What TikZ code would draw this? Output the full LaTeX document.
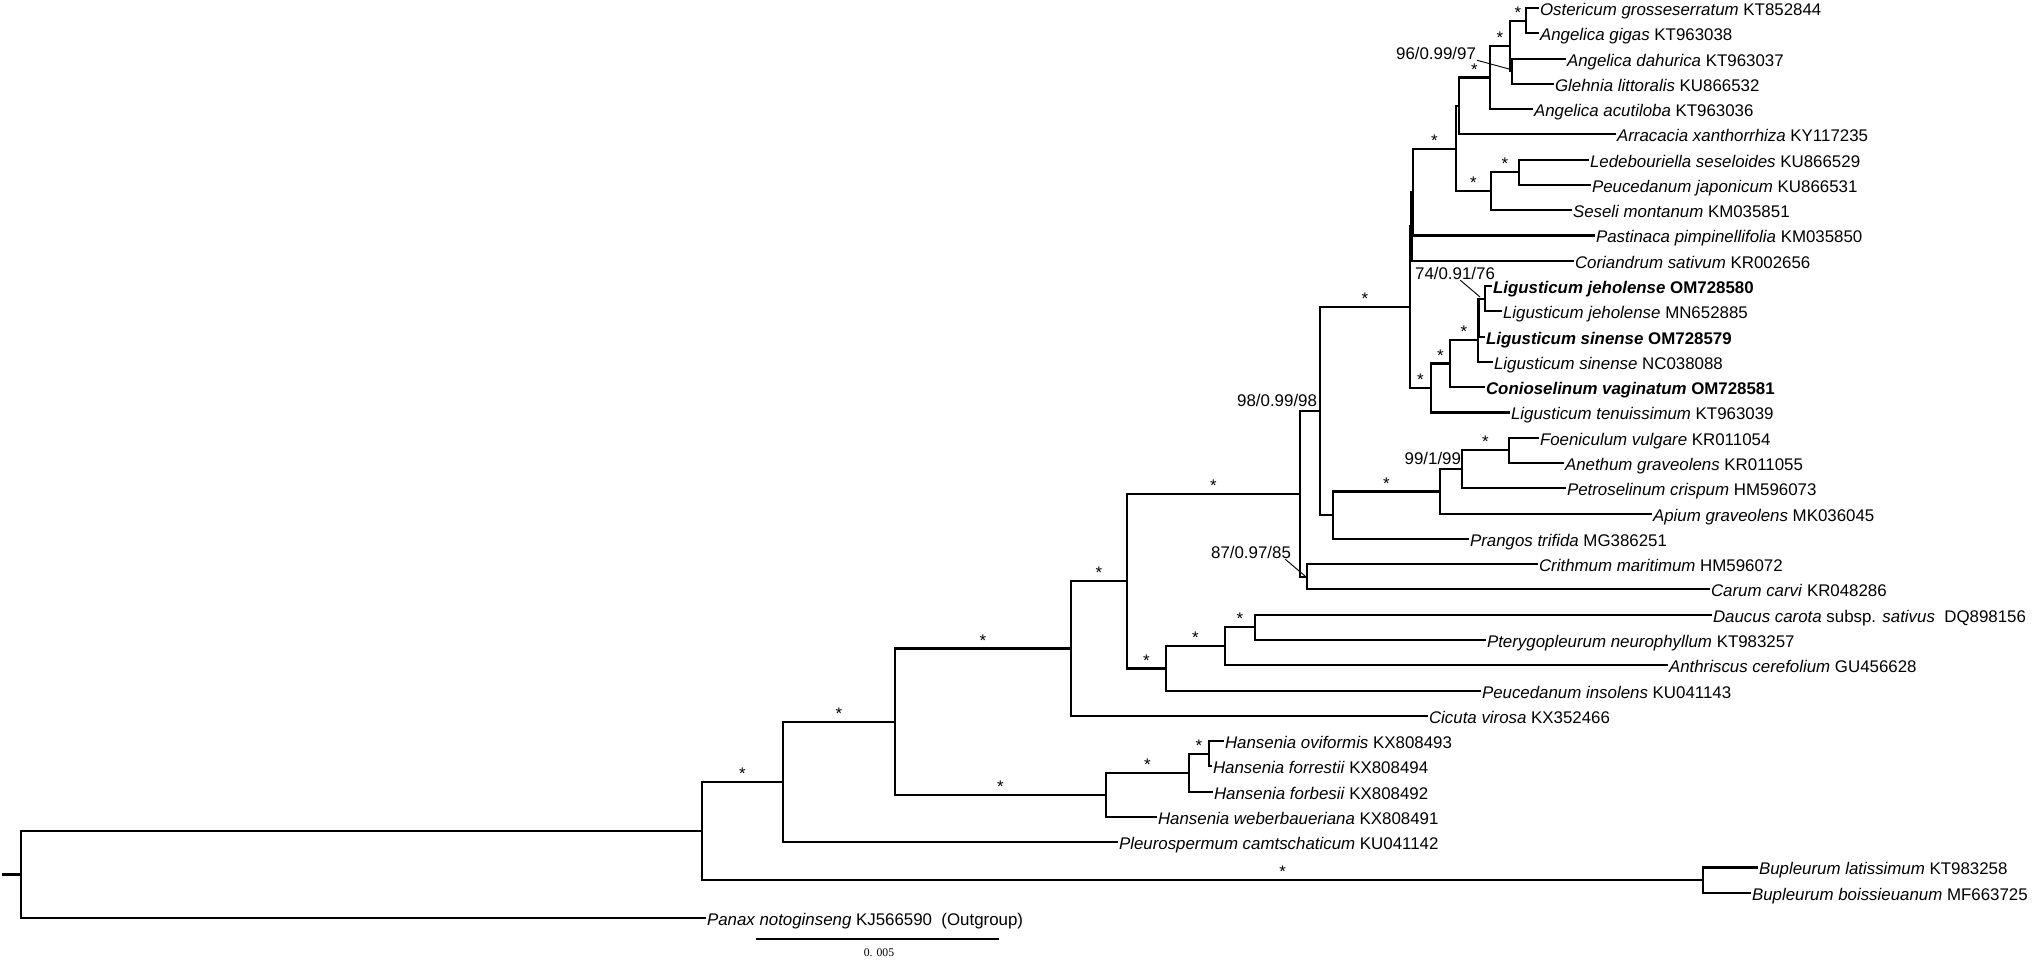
\documentclass[tikz,border=0pt]{standalone}
\usepackage{fontspec}
\setmainfont{Liberation Sans}
\newfontfamily\serifscale{Liberation Serif}
\usepackage{tikz}
\usetikzlibrary{positioning}
\tikzset{
    taxon/.style = {anchor=west, inner sep=0.4pt, text height=1.6ex, text depth=0.4ex, font=\fontsize{7.2}{8}\selectfont},
    supp/.style = {inner sep=0pt, font=\fontsize{7.2}{8}\selectfont},
    star/.style = {above, inner sep=0.6pt, font=\fontsize{7.2}{8}\selectfont},
}
\begin{document}
\begin{tikzpicture}[
	x=0.015cm, y=-0.015cm,
	line width=0.9pt,
	line cap=rect
]
\tikzset{
    pointer/.style = {line width=0.4pt, line cap=butt},
    scalebar/.style = {line width=0.5pt, line cap=butt}
}
\useasboundingbox (0,0) rectangle (2032,960);
% taxa
\node[taxon] (l1) at (1538,8.0) {\textit{Ostericum grosseserratum} KT852844};
\node[taxon] (l2) at (1538,33.3) {\textit{Angelica gigas} KT963038};
\node[taxon] (l3) at (1565,58.6) {\textit{Angelica dahurica} KT963037};
\node[taxon] (l4) at (1553,83.8) {\textit{Glehnia littoralis} KU866532};
\node[taxon] (l5) at (1532,109.1) {\textit{Angelica acutiloba} KT963036};
\node[taxon] (l6) at (1615,134.4) {\textit{Arracacia xanthorrhiza} KY117235};
\node[taxon] (l7) at (1588,159.7) {\textit{Ledebouriella seseloides} KU866529};
\node[taxon] (l8) at (1590,185.0) {\textit{Peucedanum japonicum} KU866531};
\node[taxon] (l9) at (1571,210.2) {\textit{Seseli montanum} KM035851};
\node[taxon] (l10) at (1594,235.5) {\textit{Pastinaca pimpinellifolia} KM035850};
\node[taxon] (l11) at (1573,260.8) {\textit{Coriandrum sativum} KR002656};
\node[taxon] (l12) at (1491,286.1) {\textbf{\textit{Ligusticum jeholense} OM728580}};
\node[taxon] (l13) at (1501,311.4) {\textit{Ligusticum jeholense} MN652885};
\node[taxon] (l14) at (1484,336.6) {\textbf{\textit{Ligusticum sinense} OM728579}};
\node[taxon] (l15) at (1492,361.9) {\textit{Ligusticum sinense} NC038088};
\node[taxon] (l16) at (1484,387.2) {\textbf{\textit{Conioselinum vaginatum} OM728581}};
\node[taxon] (l17) at (1509,412.5) {\textit{Ligusticum tenuissimum} KT963039};
\node[taxon] (l18) at (1538,437.8) {\textit{Foeniculum vulgare} KR011054};
\node[taxon] (l19) at (1563,463.0) {\textit{Anethum graveolens} KR011055};
\node[taxon] (l20) at (1565,488.3) {\textit{Petroselinum crispum} HM596073};
\node[taxon] (l21) at (1651,513.6) {\textit{Apium graveolens} MK036045};
\node[taxon] (l22) at (1468,538.9) {\textit{Prangos trifida} MG386251};
\node[taxon] (l23) at (1537,564.2) {\textit{Crithmum maritimum} HM596072};
\node[taxon] (l24) at (1709,589.4) {\textit{Carum carvi} KR048286};
\node[taxon] (l25) at (1711,614.7) {\textit{Daucus carota} subsp. \textit{sativus}~~DQ898156};
\node[taxon] (l26) at (1485,640.0) {\textit{Pterygopleurum neurophyllum} KT983257};
\node[taxon] (l27) at (1667,665.3) {\textit{Anthriscus cerefolium} GU456628};
\node[taxon] (l28) at (1480,690.6) {\textit{Peucedanum insolens} KU041143};
\node[taxon] (l29) at (1427,715.8) {\textit{Cicuta virosa} KX352466};
\node[taxon] (l30) at (1223,741.1) {\textit{Hansenia oviformis} KX808493};
\node[taxon] (l31) at (1211,766.4) {\textit{Hansenia forrestii} KX808494};
\node[taxon] (l32) at (1212,791.7) {\textit{Hansenia forbesii} KX808492};
\node[taxon] (l33) at (1156,817.0) {\textit{Hansenia weberbaueriana} KX808491};
\node[taxon] (l34) at (1117,842.2) {\textit{Pleurospermum camtschaticum} KU041142};
\node[taxon] (l35) at (1757,867.5) {\textit{Bupleurum latissimum} KT983258};
\node[taxon] (l36) at (1750,892.8) {\textit{Bupleurum boissieuanum} MF663725};
\node[taxon] (l37) at (705,918.1) {\textit{Panax notoginseng} KJ566590~~(Outgroup)};
% internal nodes
\coordinate (root) at (3,874.5);
\coordinate (r0) at (21,874.5);
\coordinate (n1) at (702,831.0);
\coordinate (bup) at (1703,880.2);
\coordinate (n2) at (783,782.0);
\coordinate (n3) at (895,721.7);
\coordinate (h1) at (1106,794.9);
\coordinate (h2) at (1189,772.7);
\coordinate (h3) at (1209,753.8);
\coordinate (n4) at (1071,648.5);
\coordinate (n5) at (1127,581.2);
\coordinate (n6) at (1166,668.5);
\coordinate (n7) at (1225,646.3);
\coordinate (n8) at (1255,627.4);
\coordinate (n9) at (1300,494.0);
\coordinate (n16) at (1307,576.8);
\coordinate (n10) at (1320,411.2);
\coordinate (n12) at (1333,515.2);
\coordinate (n13) at (1440,491.5);
\coordinate (n14) at (1462,469.3);
\coordinate (n15) at (1509,450.4);
\coordinate (n11) at (1410,307.2);
\coordinate (n11b) at (1411.5,226.4);
\coordinate (n11c) at (1413,192.0);
\coordinate (p) at (1456,148.6);
\coordinate (q) at (1459,106.0);
\coordinate (ac) at (1490,77.5);
\coordinate (x) at (1510,45.9);
\coordinate (y) at (1512,71.2);
\coordinate (og) at (1526,20.6);
\coordinate (s1) at (1491,191.3);
\coordinate (s2) at (1519,172.3);
\coordinate (lig1) at (1431,388.0);
\coordinate (lig2) at (1450,363.5);
\coordinate (lig3) at (1478,339.8);
\coordinate (lig3b) at (1478.5,317.7);
\coordinate (lig4) at (1485,298.7);
%
\draw (root) -- (r0);
\draw (r0) |- (n1);
\draw (r0) |- (l37.west);
\draw (n1) |- node[star,pos=0.75] {*} (n2);
\draw (n1) |- node[star,pos=0.79] {*} (bup);
\draw (bup) |- (l35.west);
\draw (bup) |- (l36.west);
\draw (n2) |- node[star,pos=0.75] {*} (n3);
\draw (n2) |- (l34.west);
\draw (n3) |- node[star,pos=0.75] {*} (n4);
\draw (n3) |- node[star,pos=0.75] {*} (h1);
%
\draw (h1) |- node[star,pos=0.75] {*} (h2);
\draw (h1) |- (l33.west);
\draw (h2) |- node[star,pos=0.75] {*} (h3);
\draw (h2) |- (l32.west);
\draw (h3) |- (l30.west);
\draw (h3) |- (l31.west);
%
\draw (n4) |- node[star,pos=0.75] {*} (n5);
\draw (n4) |- (l29.west);
\draw (n5) |- node[star,pos=0.75] {*} (n9);
\draw (n5) |- node[star,pos=0.75] {*} (n6);
\draw (n6) |- node[star,pos=0.75] {*} (n7);
\draw (n6) |- (l28.west);
\draw (n7) |- node[star,pos=0.75] {*} (n8);
\draw (n7) |- (l27.west);
\draw (n8) |- (l25.west);
\draw (n8) |- (l26.west);
%
\draw (n9) |- (n10);
\draw (n9) |- (n16);
\draw (n16) |- (l23.west);
\draw (n16) |- (l24.west);
\draw (n10) |- node[star,pos=0.75] {*} (n11);
\draw (n10) |- (n12);
\draw (n12) |- node[star,pos=0.75] {*} (n13);
\draw (n12) |- (l22.west);
\draw (n13) |- (n14);
\draw (n13) |- (l21.west);
\draw (n14) |- node[star,pos=0.75] {*} (n15);
\draw (n14) |- (l20.west);
\draw (n15) |- (l18.west);
\draw (n15) |- (l19.west);
%
\draw (n11) |- (n11b);
\draw (n11) |- node[star,pos=0.75] {*} (lig1);
\draw (n11b) |- (n11c);
\draw (n11b) |- (l11.west);
\draw (n11c) |- node[star,pos=0.75] {*} (p);
\draw (n11c) |- (l10.west);
\draw (p) |- (q);
\draw (p) |- node[star,pos=0.75] {*} (s1);
\draw (q) |- node[star,pos=0.75] {*} (ac);
\draw (q) |- (l6.west);
\draw (ac) |- node[star,pos=0.75] {*} (x);
\draw (ac) |- (l5.west);
\draw (x) |- node[star,pos=0.75] {*} (og);
\draw (x) |- (y);
\draw (og) |- (l1.west);
\draw (og) |- (l2.west);
\draw (y) |- (l3.west);
\draw (y) |- (l4.west);
\draw (s1) |- node[star,pos=0.75] {*} (s2);
\draw (s1) |- (l9.west);
\draw (s2) |- (l7.west);
\draw (s2) |- (l8.west);
%
\draw (lig1) |- node[star,pos=0.75] {*} (lig2);
\draw (lig1) |- (l17.west);
\draw (lig2) |- node[star,pos=0.75] {*} (lig3);
\draw (lig2) |- (l16.west);
\draw (lig3) |- (lig3b);
\draw (lig3) |- (l15.west);
\draw (lig3b) |- (lig4);
\draw (lig3b) |- (l14.west);
\draw (lig4) |- (l12.west);
\draw (lig4) |- (l13.west);
% support values
\node[supp,anchor=south east] (s98) at (1318,408) {98/0.99/98};
\node[supp,anchor=south east] (s99) at (1462,466) {99/1/99};
\node[supp] (s96) at (1436,53) {96/0.99/97};
\node[supp] (s74) at (1455,273) {74/0.91/76};
\node[supp] (s87) at (1251,552) {87/0.97/85};
\coordinate (p96) at (1509,69);
\coordinate (p74) at (1480,297);
\coordinate (p87) at (1305,576);
\draw[pointer] (s96.south east) -- (p96);
\draw[pointer] ([xshift=0.08cm]s74.south) -- (p74);
\draw[pointer] ([xshift=-0.1cm]s87.south east) -- (p87);
% scale
\coordinate (sbl) at (756,939);
\coordinate (sbr) at (999,939);
\draw[scalebar] (sbl) -- (sbr);
\node[inner sep=0pt, font=\serifscale\fontsize{5}{6}\selectfont] (sblab) at (879,953) {0. 005};
\end{tikzpicture}
\end{document}
